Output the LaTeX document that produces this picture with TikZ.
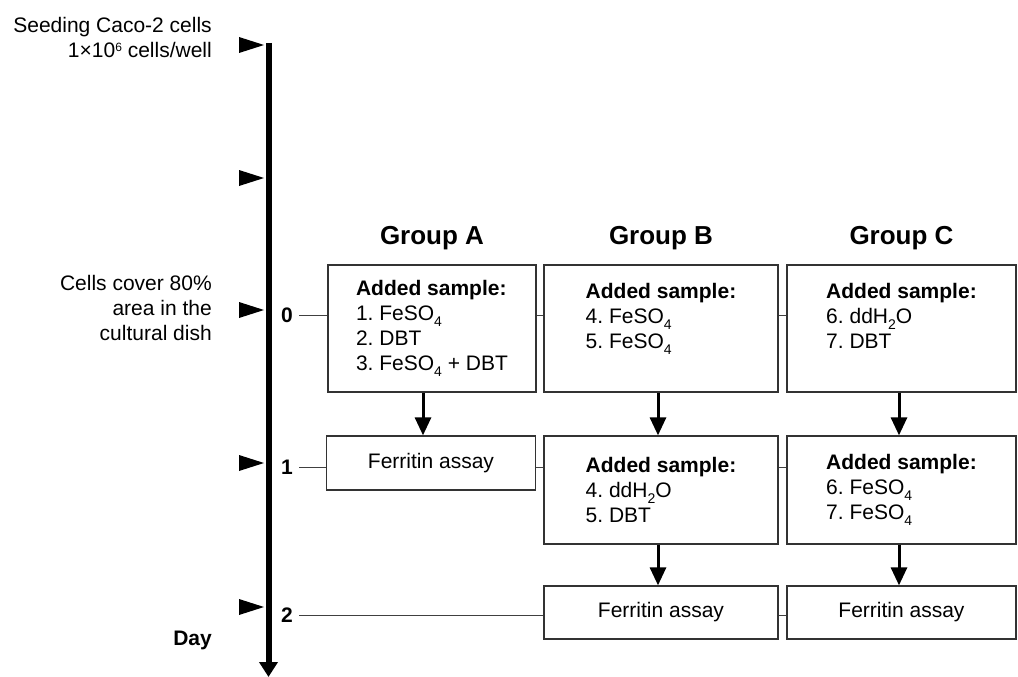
\documentclass[tikz,border=0pt]{standalone}
\usepackage{fontspec}
\setmainfont{Liberation Sans}
\frenchspacing
\usetikzlibrary{arrows.meta, positioning}
\newcommand{\lowsub}[1]{\raisebox{-6pt}{\fontsize{14}{14}\selectfont #1}}
\newcommand{\highsup}[1]{\raisebox{6pt}{\fontsize{12}{12}\selectfont #1}}
\tikzstyle{sample} = [rectangle, draw=black!80, line width=1.3pt, align=left, inner sep=0pt, font=\fontsize{21}{25}\selectfont]
\tikzstyle{assay} = [rectangle, draw=black!80, line width=1.3pt, text centered, inner sep=0pt, font=\fontsize{21}{25}\selectfont]
\tikzstyle{group} = [inner sep=0pt, font=\fontsize{26}{30}\selectfont\bfseries]
\tikzstyle{day} = [inner xsep=6pt, font=\fontsize{21}{25}\selectfont\bfseries]
\tikzstyle{note} = [anchor=east, align=right, inner sep=0pt, font=\fontsize{21}{25}\selectfont]
\tikzstyle{link} = [draw=black!75, line width=1pt]
\tikzstyle{arrow} = [line width=3pt, -{Triangle[width=16pt,length=18pt]}]
\tikzstyle{timeline} = [line width=6pt, -{Triangle[width=18pt,length=15pt]}]

\begin{document}
\begin{tikzpicture}[x=1pt, y=-1pt]
\useasboundingbox (0,0) rectangle (1018,677);

% Time axis
\coordinate (axistop) at (268.5,43);
\coordinate (axisend) at (268.5,677);
\draw[timeline] (axistop) -- (axisend);
\fill (264,45) -- ++(-25,-8) -- ++(0,16) -- cycle;
\fill (264,178) -- ++(-25,-8) -- ++(0,16) -- cycle;
\fill (264,310) -- ++(-25,-8) -- ++(0,16) -- cycle;
\fill (264,463) -- ++(-25,-8) -- ++(0,16) -- cycle;
\fill (264,607) -- ++(-25,-8) -- ++(0,16) -- cycle;

% Notes
\node[note] (seeding) at (212,37.5) {Seeding Caco-2 cells\\1×10\highsup{6} cells/well};
\node[note] (cover) at (212,308) {Cells cover 80\%\\area in the\\cultural dish};
\node[note, font=\fontsize{21}{25}\selectfont\bfseries] (daylabel) at (212,640) {Day};
\node[day] (day0) at (287,315) {0};
\node[day] (day1) at (287,467) {1};
\node[day] (day2) at (287,615) {2};

% Nodes
\node[sample, minimum width=208pt, minimum height=127pt] (sampleA) at (432,328.5) {\textbf{Added sample:}\\1. FeSO\lowsub{4}\\2. DBT\\3. FeSO\lowsub{4} + DBT};
\node[sample, minimum width=234pt, minimum height=127pt] (sampleB) at (661,328.5) {\textbf{Added sample:}\\4. FeSO\lowsub{4}\\5. FeSO\lowsub{4}\\ \mbox{}};
\node[sample, minimum width=229pt, minimum height=127pt] (sampleC) at (901.5,328.5) {\textbf{Added sample:}\\6. ddH\lowsub{2}O\\7. DBT\\ \mbox{}};
\node[group, above=14.5pt of sampleA] (groupA) {Group A};
\node[group, above=14.5pt of sampleB] (groupB) {Group B};
\node[group, above=14.5pt of sampleC] (groupC) {Group C};
\node[assay, minimum width=209pt, minimum height=54pt] (assayA) at (431,463) {Ferritin assay};
\node[sample, minimum width=234pt, minimum height=108pt] (sampleB2) at (661,490) {\textbf{Added sample:}\\4. ddH\lowsub{2}O\\5. DBT};
\node[sample, minimum width=229pt, minimum height=108pt] (sampleC2) at (901.5,490) {\textbf{Added sample:}\\6. FeSO\lowsub{4}\\7. FeSO\lowsub{4}};
\node[assay, minimum width=234pt, minimum height=53pt] (assayB) at (661,612.5) {Ferritin assay};
\node[assay, minimum width=229pt, minimum height=53pt] (assayC) at (901.5,612.5) {Ferritin assay};

% Links
\draw[link] (day0) -- (day0 -| sampleA.west);
\draw[link] (sampleA.east |- day0) -- (sampleB.west |- day0);
\draw[link] (sampleB.east |- day0) -- (sampleC.west |- day0);
\draw[link] (day1) -- (day1 -| assayA.west);
\draw[link] (assayA.east |- day1) -- (sampleB2.west |- day1);
\draw[link] (sampleB2.east |- day1) -- (sampleC2.west |- day1);
\draw[link] (day2) -- (day2 -| assayB.west);
\draw[link] (assayB.east |- day2) -- (assayC.west |- day2);

% Arrows
\draw[arrow] ([xshift=-9pt]sampleA.south) -- ([xshift=-9pt]sampleA.south |- assayA.north);
\draw[arrow] ([xshift=-3pt]sampleB.south) -- ([xshift=-3pt]sampleB.south |- sampleB2.north);
\draw[arrow] ([xshift=-2.5pt]sampleC.south) -- ([xshift=-2.5pt]sampleC.south |- sampleC2.north);
\draw[arrow] ([xshift=-3pt]sampleB2.south) -- ([xshift=-3pt]sampleB2.south |- assayB.north);
\draw[arrow] ([xshift=-2.5pt]sampleC2.south) -- ([xshift=-2.5pt]sampleC2.south |- assayC.north);

\end{tikzpicture}
\end{document}
